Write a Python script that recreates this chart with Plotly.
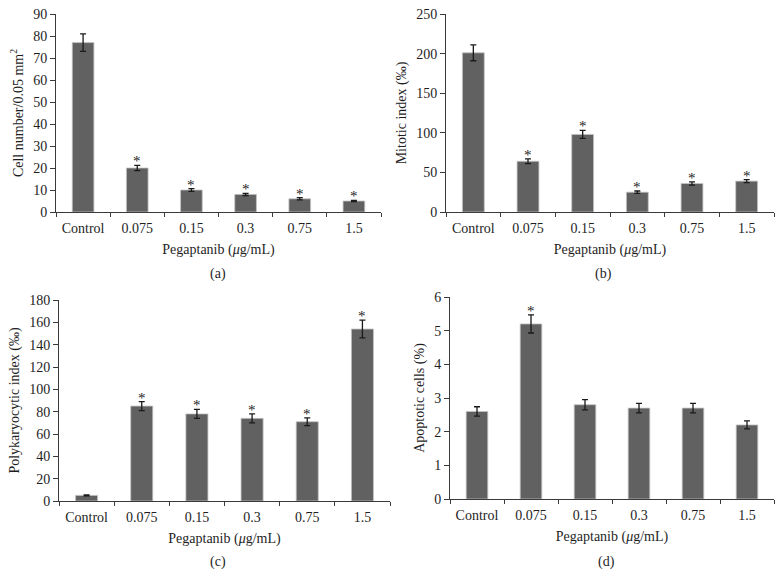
import plotly.graph_objects as go

categories = ["Control", "0.075", "0.15", "0.3", "0.75", "1.5"]

cell_number = [77, 20, 10, 8, 6, 5]
cell_number_err = [4, 1.2, 0.6, 0.5, 0.5, 0.3]
cell_number_sig = [False, True, True, True, True, True]

mitotic = [201, 64, 98, 25, 36, 39]
mitotic_err = [10, 3, 5, 1.5, 2, 2]
mitotic_sig = [False, True, True, True, True, True]

polykaryocytic = [5, 85, 78, 74, 71, 154]
polykaryocytic_err = [0.5, 4, 4, 4, 3.5, 8]
polykaryocytic_sig = [False, True, True, True, True, True]

apoptotic = [2.6, 5.2, 2.8, 2.7, 2.7, 2.2]
apoptotic_err = [0.14, 0.27, 0.15, 0.14, 0.14, 0.12]
apoptotic_sig = [False, True, False, False, False, False]

y_titles = ["Cell number/0.05 mm<sup>2</sup>", "Mitotic index (‰)",
            "Polykaryocytic index (‰)", "Apoptotic cells (%)"]
y_ranges = [[0, 90], [0, 250], [0, 180], [0, 6]]
y_dticks = [10, 50, 20, 1]
panel_labels = ["(a)", "(b)", "(c)", "(d)"]
x_title = "Pegaptanib (<i>μ</i>g/mL)"

W, H = 782, 576
# pixel boxes: left, right, top, bottom
boxes = [(56, 381, 14, 212), (446, 774, 14, 212), (59, 390, 300, 501), (450, 774, 297, 499)]
label_pos = [(218, 274), (603, 274), (218, 562), (606, 562)]

FONT = "Liberation Serif, Times New Roman, serif"
BAR = "#616161"
AX = "#3a3a3a"
TXT = "#1e1e1e"

fig = go.Figure()
datasets = [(cell_number, cell_number_err, cell_number_sig),
            (mitotic, mitotic_err, mitotic_sig),
            (polykaryocytic, polykaryocytic_err, polykaryocytic_sig),
            (apoptotic, apoptotic_err, apoptotic_sig)]

annotations = []
for i, (vals, errs, sig) in enumerate(datasets):
    xa = "x" if i == 0 else f"x{i+1}"
    ya = "y" if i == 0 else f"y{i+1}"
    fig.add_trace(go.Bar(
        x=categories, y=vals, xaxis=xa, yaxis=ya,
        marker=dict(color=BAR, line=dict(color="#c4c4c4", width=0.8)),
        error_y=dict(type="data", array=errs, visible=True, color="#1a1a1a",
                     thickness=1.3, width=3),
        showlegend=False, hoverinfo="skip"))
    for j, (v, e, s) in enumerate(zip(vals, errs, sig)):
        if s:
            annotations.append(dict(x=j, y=v + e, xref=xa, yref=ya, text="*",
                                    showarrow=False, yanchor="bottom", yshift=-6,
                                    font=dict(family=FONT, size=15, color=TXT)))
    l, r, t, b = boxes[i]
    dom_x = [l / W, r / W]
    dom_y = [1 - b / H, 1 - t / H]
    xkey = "xaxis" if i == 0 else f"xaxis{i+1}"
    ykey = "yaxis" if i == 0 else f"yaxis{i+1}"
    fig.layout[xkey] = dict(domain=dom_x, anchor=ya, type="category", automargin=False,
                            range=[-0.5, 5.5], showline=True, linecolor=AX, linewidth=1,
                            ticks="outside", tickson="boundaries", ticklen=4,
                            tickcolor=AX, showgrid=False, zeroline=False,
                            ticklabelstandoff=3,
                            tickfont=dict(family=FONT, size=14, color=TXT),
                            title=dict(text=x_title, standoff=9,
                                       font=dict(family=FONT, size=14, color=TXT)))
    fig.layout[ykey] = dict(domain=dom_y, anchor=xa, range=y_ranges[i], dtick=y_dticks[i],
                            automargin=False,
                            showline=True, linecolor=AX, linewidth=1,
                            ticks="outside", ticklen=5, tickcolor=AX,
                            showgrid=False, zeroline=False,
                            tickfont=dict(family=FONT, size=14, color=TXT),
                            title=dict(text=y_titles[i], standoff=6,
                                       font=dict(family=FONT, size=14, color=TXT)))
    lx, ly = label_pos[i]
    annotations.append(dict(x=lx / W, y=1 - ly / H, xref="paper", yref="paper",
                            xanchor="center", yanchor="middle",
                            text=panel_labels[i], showarrow=False,
                            font=dict(family=FONT, size=14, color=TXT)))

fig.update_layout(template="none", width=W, height=H, margin=dict(l=0, r=0, t=0, b=0),
                  paper_bgcolor="white", plot_bgcolor="white",
                  bargap=0.6, annotations=annotations)

fig.write_html("out.html", config={"displayModeBar": False},
               post_script="document.body.style.margin='0';document.body.style.overflow='hidden';")
